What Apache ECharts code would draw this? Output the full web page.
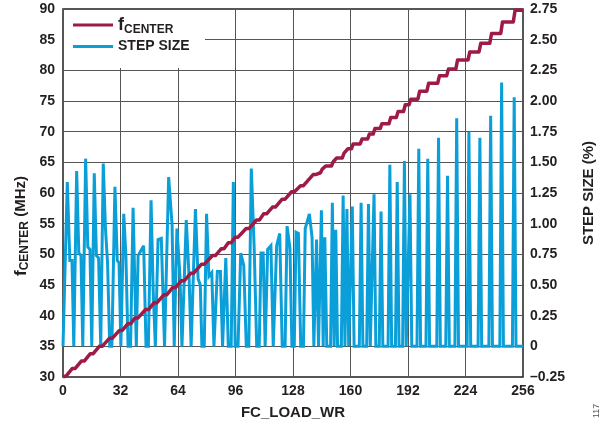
<!DOCTYPE html>
<html>
<head>
<meta charset="utf-8">
<script src="https://cdn.jsdelivr.net/npm/echarts@6/dist/echarts.min.js"></script>
<style>
  html, body { margin: 0; padding: 0; background: #fff; }
  #chart { width: 610px; height: 435px; }
</style>
</head>
<body>
<div id="chart"></div>
<script>
// FC_LOAD_WR code axis and the two value axes
const codeAxis = { min: 0, max: 256, interval: 32 };
const freqAxis = { min: 30, max: 90, interval: 5 };
const stepAxis = { min: -0.25, max: 2.75, interval: 0.25 };

// Step size (%) vs FC_LOAD_WR, polyline vertices [code, %]
const stepLow = [
  [0, 0], [1, 0], [2.4, 1.34], [3.8, 0.70], [5, 0.70], [6, 0],
  [7.6, 1.43], [8.8, 0.76], [10, 0.74], [11, 0],
  [12.6, 1.53], [13.8, 0.81], [15, 0.79], [16, 0],
  [17.4, 1.41], [18.6, 0.74], [19.8, 0.72], [21, 0],
  [22.4, 1.49], [23.6, 0.97], [24.8, 0.68], [26, 0],
  [27.2, 0], [28.9, 1.30], [30.2, 0.70], [31.2, 0.68], [32.2, 0],
  [33.8, 1.08], [35, 0.74], [36.2, 0],
  [37.6, 0], [39, 1.13], [40, 0.50], [40.8, 0],
  [41.8, 0.74], [43, 0.77], [44.9, 0.82], [46.2, 0],
  [47.5, 0], [49, 1.19], [50.2, 0.45], [51.4, 0],
  [52.9, 0.87], [54.7, 0.88], [56.5, 0],
  [57.5, 0], [58.8, 1.38], [60.7, 0.99], [61.9, 0],
  [63.4, 0.96], [65.1, 0.57], [66.2, 0],
  [67.2, 0], [68.6, 1.03], [70.2, 0.55], [71.3, 0],
  [72.4, 0], [73.7, 1.12], [75.2, 0.55], [76.4, 0.50], [77.3, 0],
  [78.6, 0], [79.9, 1.08], [81.2, 0.57], [82.8, 0.60], [84, 0],
  [85.9, 0.61], [87.6, 0.61], [88.8, 0],
  [90.6, 0.72], [92, 0],
  [93.6, 0], [94.8, 1.34], [95.8, 0],
  [97.4, 0], [98.9, 0.76], [100.6, 0.66], [102, 0],
  [103.4, 0], [104.8, 1.45], [106.4, 0.80], [107.8, 0]
];
const stepMid = [
  [109.2, 0], [110.2, 0.76], [111.4, 0.76], [112.5, 0],
  [113.9, 0.79], [115.7, 0.82], [117, 0],
  [117.9, 0], [118.9, 0.82], [120.6, 0.92], [122, 0],
  [123.6, 0], [124.7, 0.98], [126.3, 0.80], [127.4, 0],
  [128.7, 0], [129.7, 0.93], [131, 0.92], [132.3, 0],
  [133.8, 0], [134.8, 0.96], [137.1, 1.08], [138.6, 0.89], [139.6, 0],
  [140.1, 0], [141.1, 0.87], [142.2, 0],
  [142.8, 0], [143.8, 1.11], [144.8, 0], [145.7, 0.89], [146.8, 0],
  [148.9, 0], [149.9, 1.17], [150.9, 0], [151.8, 0.95], [152.8, 0],
  [154.9, 0], [155.9, 1.23], [156.9, 0], [158, 1.12], [159, 0],
  [160, 0], [161, 1.14], [162, 0],
  [164.9, 0], [165.9, 1.17], [166.9, 0],
  [169, 0], [170, 1.16], [171, 0],
  [172.1, 0], [173.1, 1.24], [174.1, 0],
  [176, 0], [177, 1.10], [178, 0]
];
const stepHigh = [
  [180.9, 0], [181.9, 1.48], [182.9, 0],
  [185, 0], [186, 1.34], [187, 0],
  [189, 0], [190, 1.51], [191, 0],
  [192.1, 0], [193.1, 1.24], [194.1, 0],
  [197, 0], [198, 1.61], [199, 0],
  [202, 0], [203, 1.53], [204, 0],
  [208, 0], [209, 1.70], [210, 0],
  [213, 0], [214, 1.39], [215, 0],
  [218.1, 0], [219.1, 1.86], [220.1, 0],
  [224.9, 0], [225.9, 1.75], [226.9, 0],
  [231, 0], [232, 1.70], [233, 0],
  [237, 0], [238, 1.88], [239, 0],
  [243.1, 0], [244.1, 2.15], [245.1, 0],
  [250.1, 0], [251.1, 2.03], [252.1, 0],
  [256, 0]
];

// Center frequency (MHz) vs FC_LOAD_WR, polyline vertices [code, MHz]
const fLow = [
  [0, 30.0], [0.3, 30.2], [1.8, 30.2],
  [5.2, 31.4], [6.8, 31.4], [10.2, 32.6], [11.8, 32.6],
  [15.2, 33.8], [16.8, 33.8], [20.2, 35.0], [21.8, 35.0],
  [25.8, 36.3], [27.4, 36.3], [31.4, 37.6], [33.0, 37.6],
  [36.1, 38.7], [37.7, 38.7], [40.0, 39.6], [41.6, 39.6],
  [46.0, 41.0], [47.6, 41.0], [50.6, 42.1], [52.2, 42.1],
  [56.1, 43.4], [57.7, 43.4], [61.1, 44.6], [62.7, 44.6],
  [65.9, 45.7], [67.5, 45.7], [71.0, 46.9], [72.6, 46.9],
  [77.1, 48.4], [78.7, 48.4], [83.2, 49.8], [84.8, 49.8],
  [88.0, 50.9], [89.6, 50.9], [92.0, 51.9], [93.6, 51.9],
  [95.8, 52.8], [97.4, 52.8], [101.9, 54.2], [103.5, 54.2]
];
const fMid = [
  [107.7, 55.6], [109.3, 55.6], [111.7, 56.6], [113.3, 56.6],
  [116.6, 57.7], [118.2, 57.7], [122.0, 59.0], [123.6, 59.0],
  [127.2, 60.2], [128.8, 60.2], [132.2, 61.2], [133.8, 61.2],
  [139.2, 63.0], [140.6, 63.0], [141.6, 63.3],
  [143.3, 63.3], [144.3, 63.9], [145.2, 63.9], [146.2, 64.4],
  [149.4, 64.4], [150.4, 65.1], [151.3, 65.1], [152.3, 65.7],
  [155.4, 65.7], [156.4, 66.5], [157.5, 66.5], [158.5, 67.2],
  [160.5, 67.2], [161.5, 68.0], [165.4, 68.0], [166.4, 68.8],
  [169.5, 68.8], [170.5, 69.6], [172.6, 69.6], [173.6, 70.5],
  [176.5, 70.5], [177.5, 71.3]
];
const fHigh = [
  [181.4, 71.3], [182.4, 72.3], [185.5, 72.3], [186.5, 73.3],
  [189.5, 73.3], [190.5, 74.4], [192.6, 74.4], [193.6, 75.3],
  [197.5, 75.3], [198.5, 76.6], [202.5, 76.6], [203.5, 77.9],
  [208.5, 77.9], [209.5, 79.1], [213.5, 79.1], [214.5, 80.2],
  [218.6, 80.2], [219.6, 81.7], [225.4, 81.7], [226.4, 83.0],
  [231.5, 83.0], [232.5, 84.4], [237.5, 84.4], [238.5, 86.0],
  [243.6, 86.0], [244.6, 87.9], [250.6, 87.9], [251.6, 89.8],
  [256, 89.8]
];

const RED = '#9e1b46';
const BLUE = '#0a9fd8';
const INK = '#231f20';
const FONT = '"Liberation Sans", Arial, Helvetica, sans-serif';

const chart = echarts.init(document.getElementById('chart'), null, { renderer: 'canvas' });

const labelStyle = { color: INK, fontFamily: FONT, fontWeight: 'bold', fontSize: 14 };

chart.setOption({
  animation: false,
  backgroundColor: '#fff',
  textStyle: { fontFamily: FONT },
  grid: {
    left: 63, right: 87, top: 9, bottom: 58,
    show: true, borderColor: INK, borderWidth: 1.5, containLabel: false
  },
  legend: {
    data: ['fCENTER', 'STEP SIZE'],
    orient: 'vertical',
    left: 68, top: 11,
    itemWidth: 40, itemHeight: 3, itemGap: 4,
    icon: 'rect',
    textStyle: {
      color: INK, fontFamily: FONT, fontWeight: 'bold', fontSize: 14,
      rich: {
        f: { fontFamily: FONT, fontWeight: 'bold', fontSize: 18, color: INK },
        sub: { fontFamily: FONT, fontWeight: 'bold', fontSize: 12, color: INK, padding: [9, 0, 0, 0] },
        s: { fontFamily: FONT, fontWeight: 'bold', fontSize: 14, color: INK }
      }
    },
    formatter: name => name === 'fCENTER' ? '{f|f}{sub|CENTER}' : '{s|' + name + '}'
  },
  graphic: [
    // white panel behind the legend, over the grid lines
    { type: 'rect', shape: { x: 64, y: 10, width: 141, height: 58 }, style: { fill: '#fff' }, z: 1, silent: true },
    // left axis title with subscript
    { type: 'text', x: 21, y: 226, rotation: Math.PI / 2, silent: true,
      style: {
        text: '{f|f}{sub|CENTER}{n| (MHz)}', align: 'center', verticalAlign: 'middle',
        fill: INK, fontFamily: FONT, fontWeight: 'bold', fontSize: 15,
        rich: {
          f: { fontFamily: FONT, fontWeight: 'bold', fontSize: 17, fill: INK },
          sub: { fontFamily: FONT, fontWeight: 'bold', fontSize: 12, fill: INK, padding: [8, 0, 0, 0] },
          n: { fontFamily: FONT, fontWeight: 'bold', fontSize: 15, fill: INK }
        }
      } },
    { type: 'text', x: 592, y: 418, rotation: Math.PI / 2,
      style: { text: '117', fill: '#555', fontSize: 9, fontFamily: FONT } }
  ],
  xAxis: {
    type: 'value', min: codeAxis.min, max: codeAxis.max, interval: codeAxis.interval,
    name: 'FC_LOAD_WR', nameLocation: 'middle', nameGap: 28,
    nameTextStyle: { color: INK, fontFamily: FONT, fontWeight: 'bold', fontSize: 15 },
    axisLine: { show: false }, axisTick: { show: false },
    axisLabel: Object.assign({ margin: 7 }, labelStyle),
    splitLine: { show: true, lineStyle: { color: '#555', width: 1 } }
  },
  yAxis: [
    {
      type: 'value', min: freqAxis.min, max: freqAxis.max, interval: freqAxis.interval,
      position: 'left',
      axisLine: { show: false }, axisTick: { show: false },
      axisLabel: Object.assign({ margin: 8 }, labelStyle),
      splitLine: { show: true, lineStyle: { color: '#555', width: 1 } }
    },
    {
      type: 'value', min: stepAxis.min, max: stepAxis.max, interval: stepAxis.interval,
      position: 'right',
      name: 'STEP SIZE (%)', nameLocation: 'middle', nameGap: 58, nameRotate: 90,
      nameTextStyle: { color: INK, fontFamily: FONT, fontWeight: 'bold', fontSize: 15 },
      axisLine: { show: false }, axisTick: { show: false },
      axisLabel: Object.assign({
        margin: 7,
        formatter: v => {
          const r = Math.round(v * 100) / 100;
          if (r === 0) return '0';
          if (r < 0) return '\u2013' + Math.abs(r).toFixed(2);
          return r.toFixed(2);
        }
      }, labelStyle),
      splitLine: { show: false }
    }
  ],
  series: [
    {
      name: 'STEP SIZE', type: 'line', yAxisIndex: 1,
      data: stepLow.concat(stepMid, stepHigh),
      showSymbol: false, symbol: 'none',
      lineStyle: { color: BLUE, width: 3, join: 'miter', miterLimit: 3 },
      itemStyle: { color: BLUE },
      z: 3
    },
    {
      name: 'fCENTER', type: 'line', yAxisIndex: 0,
      data: fLow.concat(fMid, fHigh),
      showSymbol: false, symbol: 'none',
      lineStyle: { color: RED, width: 3.5, join: 'round' },
      itemStyle: { color: RED },
      z: 4
    }
  ]
});
</script>
</body>
</html>
